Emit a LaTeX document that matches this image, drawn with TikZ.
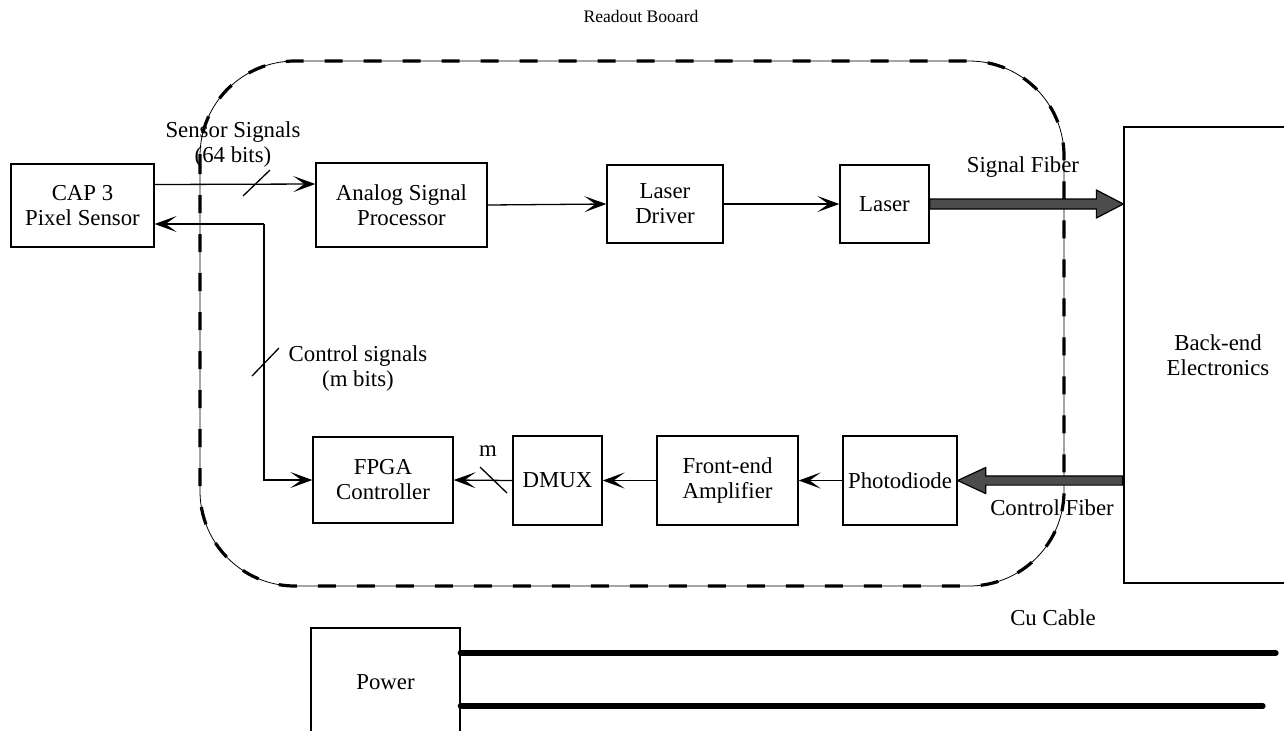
\documentclass[tikz,border=0pt]{standalone}
\usepackage{fontspec}
\setmainfont{Liberation Serif}
\usetikzlibrary{arrows.meta}

\begin{document}
\begin{tikzpicture}[x=0.5pt,y=-0.5pt,line width=0.65pt,
>={Stealth[length=11pt,width=8pt,inset=5.5pt]},
every node/.style={font=\fontsize{11.4}{12.5}\selectfont},
block/.style={draw,rectangle,align=center,inner sep=0pt},
lbl/.style={align=center,inner sep=0pt},
sig/.style={->},
fiber/.style={draw=black,fill=black!70,line width=0.6pt,line join=miter},
cable/.style={line width=3pt,line cap=round}]

\useasboundingbox (0,0) rectangle (1284,730);
\clip (0,0) rectangle (1284,730);

\draw[line width=0.4pt,rounded corners=47.5pt] (200,61) rectangle (1064,586);
\draw[line width=1.6pt,dash pattern=on 9pt off 10.5pt,rounded corners=47.5pt] (200,61) rectangle (1064,586);

\node[block,minimum width=71.5pt,minimum height=41.5pt] (cap) at (82.5,205.5) {CAP 3\\Pixel Sensor};
\node[block,minimum width=85.5pt,minimum height=42pt] (asp) at (401.5,205) {Analog Signal\\Processor};
\node[block,minimum width=58pt,minimum height=39pt] (ldrv) at (665,204) {Laser\\Driver};
\node[block,minimum width=44.5pt,minimum height=39pt] (laser) at (884.5,204) {Laser};
\node[block,minimum width=94pt,minimum height=228pt] (backend) at (1218,355) {Back-end\\Electronics};
\node[block,minimum width=70pt,minimum height=43pt] (fpga) at (383,480) {FPGA\\Controller};
\node[block,minimum width=44.5pt,minimum height=44.5pt] (dmux) at (557.5,480.5) {DMUX};
\node[block,minimum width=70.5pt,minimum height=44.5pt] (fea) at (727.5,480.5) {Front-end\\Amplifier};
\node[block,minimum width=57pt,minimum height=44.5pt] (photo) at (900,480.5) {Photodiode};
\node[block,minimum width=74.5pt,minimum height=54pt] (power) at (385.5,682) {Power};

\node[lbl,font=\fontsize{8.8}{10}\selectfont] (rbtitle) at (641,16) {Readout Booard};
\node[lbl] (senslbl) at (233,145) {Sensor Signals\\(64 bits)};
\node[lbl] (ctrllbl) at (358,369) {Control signals\\(m bits)};
\node[lbl] (mlbl) at (488,451) {m};
\node[lbl] (sflbl) at (1023,167) {Signal Fiber};
\node[lbl] (cflbl) at (1052,508) {Control Fiber};
\node[lbl] (culbl) at (1053,618) {Cu Cable};

\draw[sig] ([yshift=10.5pt]cap.east) -- ([yshift=10.5pt]asp.west);
\draw[sig] (asp.east) -- (ldrv.west);
\draw[sig] (ldrv.east) -- (laser.west);
\coordinate (jn) at (264,224);
\draw[sig] (jn) -- (jn -| cap.east);
\draw[sig] (jn) |- (fpga.west);
\draw[sig] (photo.west) -- (fea.east);
\draw[sig] (fea.west) -- (dmux.east);
\draw[sig] (dmux.west) -- (fpga.east);

\draw (243,196) -- (270,170);
\draw (252,376) -- (279,348);
\draw (480,467) -- (507,493);

\coordinate (sftip) at (laser.east -| backend.west);
\draw[fiber] ([yshift=2.5pt]laser.east) -- ([xshift=-13.5pt,yshift=2.5pt]sftip)
  -- ([xshift=-13.5pt,yshift=7pt]sftip) -- (sftip)
  -- ([xshift=-13.5pt,yshift=-7pt]sftip) -- ([xshift=-13.5pt,yshift=-2.5pt]sftip)
  -- ([yshift=-2.5pt]laser.east) -- cycle;
\coordinate (cfend) at (photo.east -| backend.west);
\draw[fiber] ([xshift=-0.5pt,yshift=2.3pt]cfend) -- ([xshift=14pt,yshift=2.3pt]photo.east)
  -- ([xshift=14pt,yshift=6.5pt]photo.east) -- (photo.east)
  -- ([xshift=14pt,yshift=-6.5pt]photo.east) -- ([xshift=14pt,yshift=-2.3pt]photo.east)
  -- ([xshift=-0.5pt,yshift=-2.3pt]cfend) -- cycle;

\draw[cable] ([yshift=14.5pt]power.east) -- ++(815,0);
\draw[cable] ([yshift=-12pt]power.east) -- ++(802,0);

\end{tikzpicture}
\end{document}
